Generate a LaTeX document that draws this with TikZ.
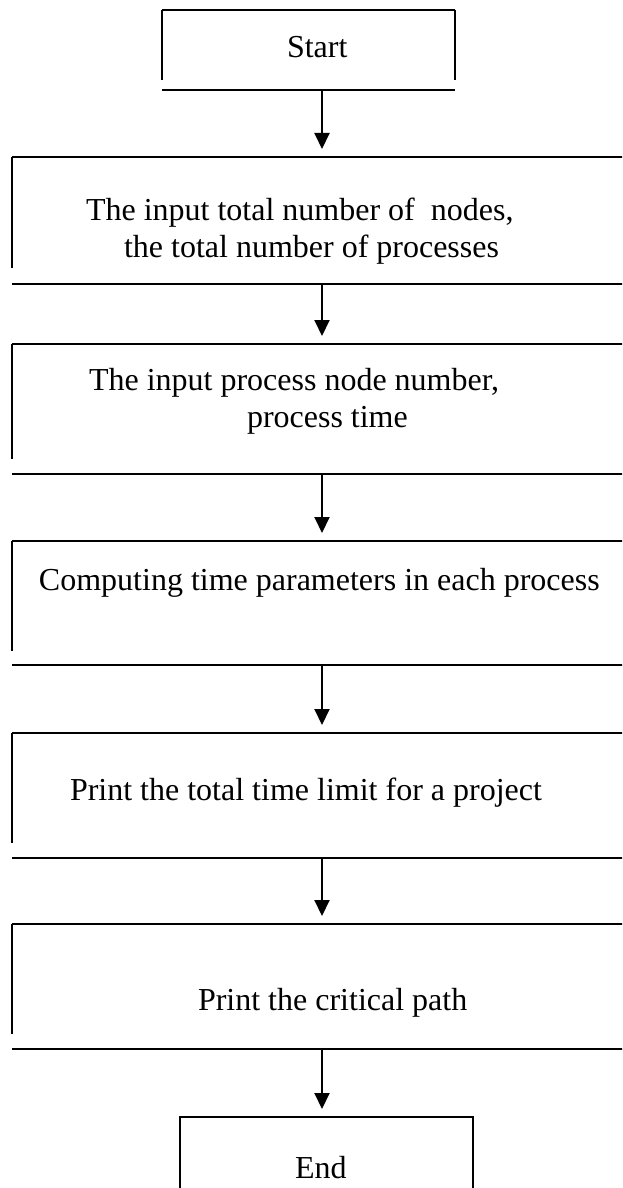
\documentclass[tikz,border=0pt]{standalone}
\usepackage{fontspec}
\setmainfont{Liberation Serif}
\usetikzlibrary{arrows.meta}

\newcommand{\openbox}[2]{%
  \draw (#1.north west) -- (#1.north east);
  \draw (#1.north west) -- ([yshift=#2]#1.south west);
  \draw (#1.south west) -- (#1.south east);}

\begin{document}
\begin{tikzpicture}
[x=0.5pt,y=-0.5pt,line width=1pt,%
  every node/.style={inner sep=0pt,font=\fontsize{16}{18.5}\selectfont},%
  frame/.style={anchor=north west},%
  txt/.style={anchor=west,align=left},%
  flow/.style={-{Triangle[length=8pt,width=7.5pt]},shorten >=4pt}]
\useasboundingbox (0,0) rectangle (622,1188);
\clip (0,0) rectangle (622,1188);
% frames
\node[frame,minimum width=145.5pt,minimum height=39pt] (start) at (162,10) {};
\node[frame,minimum width=320pt,minimum height=62.5pt] (b2) at (12,157) {};
\node[frame,minimum width=320pt,minimum height=64pt] (b3) at (12,344) {};
\node[frame,minimum width=320pt,minimum height=61pt] (b4) at (12,541) {};
\node[frame,minimum width=320pt,minimum height=61.5pt] (b5) at (12,733) {};
\node[frame,minimum width=320pt,minimum height=61.5pt] (b6) at (12,924) {};
\node[frame,minimum width=145.5pt,minimum height=40pt] (end) at (180,1117) {};
% texts
\node[txt] (t1) at (286,47) {Start};
\node[txt] (t2) at (85,231) {The input total number of\ \ nodes,\\\hspace*{19pt}the total number of processes};
\node[txt] (t3) at (88,401) {The input process node number,\\\hspace*{79pt}process time};
\node[txt] (t4) at (38,583) {Computing time parameters in each process};
\node[txt] (t5) at (69,793) {Print the total time limit for a project};
\node[txt] (t6) at (197,1003) {Print the critical path};
\node[txt] (t7) at (294,1168) {End};
% edges
\draw (start.north west) -- (start.north east);
\draw (start.north west) -- ([yshift=5pt]start.south west);
\draw (start.north east) -- ([yshift=5pt]start.south east);
\draw (start.south west) -- (start.south east);
\openbox{b2}{8pt}
\openbox{b3}{7.5pt}
\openbox{b4}{7pt}
\openbox{b5}{7.5pt}
\openbox{b6}{7.5pt}
\draw (end.south west) -- (end.north west) -- (end.north east) -- (end.south east);
% arrows
\coordinate (ax) at (322,0);
\draw[flow] (start.south -| ax) -- (b2.north -| ax);
\draw[flow] (b2.south -| ax) -- (b3.north -| ax);
\draw[flow] (b3.south -| ax) -- (b4.north -| ax);
\draw[flow] (b4.south -| ax) -- (b5.north -| ax);
\draw[flow] (b5.south -| ax) -- (b6.north -| ax);
\draw[flow] (b6.south -| ax) -- (end.north -| ax);
\end{tikzpicture}
\end{document}
